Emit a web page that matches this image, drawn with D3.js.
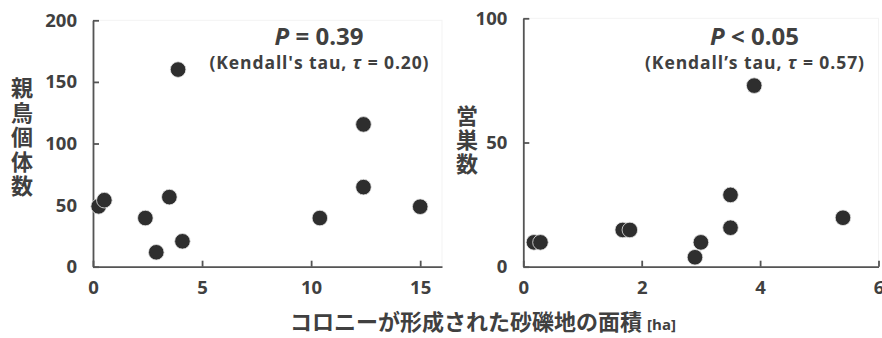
<!DOCTYPE html>
<html><head><meta charset="utf-8">
<script src="https://cdn.jsdelivr.net/npm/d3@7"></script>
<style>
body{margin:0;background:#fff;}
text{font-family:"Open Sans","Noto Sans CJK JP",sans-serif;font-weight:700;fill:#404040;}
</style></head><body>
<svg id="c" width="882" height="338"></svg>
<script>
// Left panel: colony gravel area (ha) vs number of adult birds
const leftArea  = [0.26, 0.52, 2.4, 2.9, 3.5, 3.9, 4.1, 10.4, 12.4, 12.4, 15.0];
const leftBirds = [49, 54, 39.5, 11.7, 56.5, 160, 20.6, 39.5, 115.5, 64.6, 48.7];
const leftXTicks = [0, 5, 10, 15];
const leftYTicks = [0, 50, 100, 150, 200];
// Right panel: colony gravel area (ha) vs number of nests
const rightArea  = [0.18, 0.29, 1.68, 1.80, 2.9, 3.0, 3.5, 3.5, 3.9, 5.4];
const rightNests = [9.8, 9.8, 14.8, 14.8, 3.8, 9.8, 28.9, 15.7, 72.9, 19.7];
const rightXTicks = [0, 2, 4, 6];
const rightYTicks = [0, 50, 100];
const leftYLabel = "親鳥個体数";
const rightYLabel = "営巣数";
const xTitle = "コロニーが形成された砂礫地の面積";
const xUnit = "[ha]";

const svg = d3.select("#c");
const axisColor = "#555";

function panel(cfg){
  const x = d3.scaleLinear().domain(cfg.xDomain).range([cfg.x0, cfg.x1]);
  const y = d3.scaleLinear().domain(cfg.yDomain).range([cfg.y0, cfg.y1]);
  const g = svg.append("g");
  g.append("rect").attr("x", cfg.x0).attr("y", cfg.y1).attr("width", cfg.x1-cfg.x0).attr("height", cfg.y0-cfg.y1)
    .attr("fill","none").attr("stroke","#f3f3f3").attr("stroke-width",1);
  const xa = g.append("g").attr("transform",`translate(0,${cfg.y0})`)
    .call(d3.axisBottom(x).tickValues(cfg.xTicks).tickFormat(d3.format("d")).tickSizeInner(-6).tickSizeOuter(0).tickPadding(14));
  const ya = g.append("g").attr("transform",`translate(${cfg.x0},0)`)
    .call(d3.axisLeft(y).tickValues(cfg.yTicks).tickFormat(d3.format("d")).tickSizeInner(-6).tickSizeOuter(0).tickPadding(16));
  [xa, ya].forEach(a=>{
    a.selectAll("path,line").attr("stroke",axisColor).attr("stroke-width",1.8);
    a.selectAll("text").attr("font-size",18.5).attr("font-family",'"Open Sans",sans-serif').attr("font-weight",700).attr("fill","#404040");
  });
  g.selectAll("circle.d").data(cfg.xs.map((v,i)=>[v,cfg.ys[i]])).join("circle")
    .attr("class","d").attr("cx",d=>x(d[0])).attr("cy",d=>y(d[1])).attr("r",7.8)
    .attr("fill","#2e2e2e").attr("stroke","#e8e8e8").attr("stroke-width",0.8);
  const t1 = g.append("text").attr("x",cfg.statX).attr("y",45).attr("text-anchor","middle").attr("font-size",24);
  t1.append("tspan").attr("font-style","italic").text("P");
  t1.append("tspan").text(cfg.stat);
  const t2 = g.append("text").attr("x",cfg.statX).attr("y",69).attr("text-anchor","middle").attr("font-size",17.5)
    .attr("textLength",219).attr("lengthAdjust","spacing");
  t2.append("tspan").text(cfg.kendall);
  t2.append("tspan").attr("font-style","italic").text("τ");
  t2.append("tspan").text(cfg.tau);
  g.append("text").attr("x",cfg.ylx).attr("y",cfg.yly)
    .style("writing-mode","vertical-rl").style("text-orientation","upright")
    .attr("letter-spacing",cfg.ls)
    .attr("font-size",22).attr("font-family",'"Noto Sans CJK JP",sans-serif').text(cfg.yLabel);
}

panel({xDomain:[0,16], yDomain:[0,200], x0:93, x1:442, y0:266.7, y1:20.3,
  xTicks:leftXTicks, yTicks:leftYTicks, xs:leftArea, ys:leftBirds,
  statX:319, stat:" = 0.39", kendall:"(Kendall's tau, ", tau:" = 0.20)",
  yLabel:leftYLabel, ylx:21, yly:77, ls:2.5});
panel({xDomain:[0,6], yDomain:[0,100], x0:523.3, x1:878.5, y0:266.7, y1:18.3,
  xTicks:rightXTicks, yTicks:rightYTicks, xs:rightArea, ys:rightNests,
  statX:754.5, stat:" < 0.05", kendall:"(Kendall’s tau, ", tau:" = 0.57)",
  yLabel:rightYLabel, ylx:466, yly:105, ls:2});

const xt = svg.append("text").attr("x",483).attr("y",330).attr("text-anchor","middle");
xt.append("tspan").attr("font-size",22).attr("font-family",'"Noto Sans CJK JP",sans-serif').text(xTitle);
xt.append("tspan").attr("font-size",15).attr("dx",5).text(xUnit);
</script></body></html>
